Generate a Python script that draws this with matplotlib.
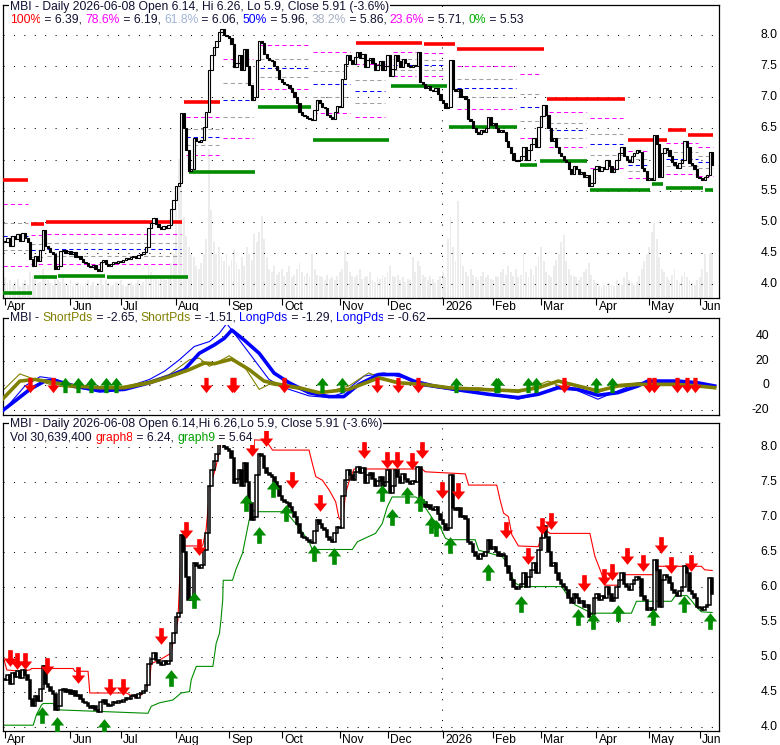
import numpy as np
import pandas as pd
import matplotlib
matplotlib.use("Agg")
import matplotlib.pyplot as plt
from matplotlib.path import Path

plt.rcParams['font.family'] = ['Liberation Sans', 'DejaVu Sans']

W, H = 780, 745

# ---------------- data -----------------
holidays = ['2025-05-26', '2025-06-19', '2025-07-04', '2025-09-01', '2025-11-27',
            '2025-12-25', '2026-01-01', '2026-01-19', '2026-02-16', '2026-04-03',
            '2026-05-25']
dates = pd.bdate_range('2025-04-24', '2026-06-08', freq='C', holidays=holidays)

close = [4.68, 4.75, 4.62, 4.78, 4.72, 4.80, 4.70, 4.82, 4.75, 4.68,
         4.40, 4.30, 4.45, 4.38, 4.55, 4.87, 4.62, 4.58, 4.52, 4.48,
         4.25, 4.30, 4.53, 4.55, 4.50, 4.53, 4.48, 4.52, 4.44, 4.46,
         4.40, 4.36, 4.34, 4.30, 4.28, 4.31, 4.25, 4.22, 4.36, 4.39,
         4.33, 4.30, 4.32, 4.36, 4.34, 4.38, 4.36, 4.39, 4.42, 4.40,
         4.44, 4.46, 4.42, 4.47, 4.49, 4.52, 4.60, 4.91, 4.98, 5.06,
         4.96, 4.92, 4.89, 4.94, 4.90, 4.95, 5.20, 5.35, 5.58, 5.63,
         6.75, 6.50, 6.15, 5.82, 5.85, 6.34, 6.30, 6.28, 6.32, 6.53,
         6.77, 7.44, 7.68, 7.80, 7.91, 8.05, 8.10, 8.00, 7.98, 7.95,
         7.85, 7.49, 7.55, 7.68, 7.44, 7.77, 7.50, 7.20, 6.96, 7.00,
         7.60, 7.91, 7.87, 7.70, 7.63, 7.60, 7.58, 7.50, 7.44, 7.30,
         7.25, 7.22, 7.20, 7.15, 7.08, 7.00, 6.90, 6.77, 6.72, 6.70,
         6.67, 6.65, 6.63, 6.80, 6.96, 6.91, 6.85, 6.82, 6.72, 6.68,
         6.65, 6.77, 6.86, 6.84, 7.30, 7.53, 7.68, 7.60, 7.53, 7.65,
         7.72, 7.63, 7.70, 7.49, 7.60, 7.63, 7.55, 7.44, 7.52, 7.58,
         7.44, 7.50, 7.68, 7.34, 7.45, 7.68, 7.58, 7.49, 7.62, 7.55,
         7.50, 7.48, 7.52, 7.50, 7.72, 7.25, 7.22, 7.15, 7.18, 7.12,
         7.10, 7.15, 7.05, 6.96, 6.90, 6.82, 6.85, 7.60, 7.13, 7.10,
         7.13, 7.00, 7.02, 6.98, 6.65, 6.62, 6.50, 6.45, 6.41, 6.48,
         6.45, 6.50, 6.68, 6.55, 6.58, 6.50, 6.44, 6.48, 6.44, 6.30,
         6.20, 6.10, 6.00, 5.98, 6.00, 6.05, 6.20, 6.00, 6.15, 6.25,
         6.34, 6.20, 6.53, 6.70, 6.87, 6.72, 6.50, 6.30, 6.35, 6.20,
         6.10, 6.05, 6.00, 5.96, 5.85, 5.77, 5.90, 5.85, 5.77, 5.80,
         5.72, 5.75, 5.58, 5.62, 5.85, 5.90, 5.82, 5.88, 5.85, 6.00,
         5.90, 5.80, 5.85, 6.00, 6.10, 6.20, 6.05, 6.00, 5.96, 6.05,
         6.10, 6.15, 6.12, 5.87, 5.82, 5.68, 5.70, 5.68, 6.39, 6.25,
         5.72, 6.10, 6.18, 6.15, 6.06, 5.96, 5.92, 5.87, 5.95, 6.00,
         6.30, 6.20, 5.95, 5.91, 5.85, 5.72, 5.70, 5.68, 5.72, 5.75,
         6.13, 5.91]

# volume in millions
volume = [14, 10, 12, 9, 11, 13, 8, 10, 12, 9,
          18, 15, 12, 10, 11, 20, 16, 12, 10, 9,
          14, 12, 11, 15, 10, 9, 12, 8, 10, 11,
          9, 8, 10, 12, 9, 11, 8, 10, 13, 9,
          12, 10, 8, 9, 11, 10, 12, 9, 8, 10,
          11, 9, 10, 12, 9, 11, 14, 22, 18, 16,
          14, 12, 15, 13, 12, 16, 24, 30, 60, 95,
          100, 55, 42, 35, 30, 28, 22, 20, 24, 30,
          40, 102, 60, 38, 30, 35, 28, 25, 30, 22,
          26, 33, 24, 20, 28, 22, 35, 30, 26, 44,
          38, 45, 56, 40, 28, 20, 18, 22, 16, 18,
          20, 15, 18, 22, 14, 16, 20, 24, 18, 15,
          17, 14, 30, 20, 16, 15, 14, 12, 16, 13,
          14, 12, 15, 18, 20, 32, 25, 18, 15, 14,
          16, 20, 13, 14, 15, 18, 12, 11, 14, 13,
          16, 14, 18, 22, 15, 14, 16, 12, 14, 11,
          13, 12, 28, 18, 25, 22, 16, 14, 12, 15,
          13, 10, 12, 15, 18, 14, 40, 55, 35, 25,
          66, 30, 22, 18, 15, 20, 16, 14, 12, 15,
          18, 14, 16, 13, 12, 15, 14, 18, 20, 16,
          22, 18, 15, 20, 14, 16, 30, 18, 14, 20,
          16, 22, 28, 35, 25, 18, 16, 14, 22, 26,
          30, 38, 43, 25, 20, 16, 15, 14, 12, 14,
          18, 20, 24, 16, 12, 10, 8, 7, 9, 8,
          10, 9, 8, 12, 10, 9, 14, 18, 12, 10,
          9, 11, 15, 20, 25, 30, 35, 45, 51, 40,
          28, 20, 18, 14, 12, 16, 20, 12, 10, 15,
          18, 14, 12, 10, 9, 12, 14, 20, 30, 18,
          31, 31]

# retracement groups: start bar, end bar, high, low
fib_groups = [(-0.7, 9.2, 5.68, 3.86), (10.5, 16, 4.97, 4.12), (16.5, 39, 5.0, 4.12),
              (40.5, 70, 5.0, 4.12), (72, 85, 6.93, 5.80), (86.5, 98.5, 8.1, 5.80),
              (101.5, 120.5, 8.1, 6.84), (122.5, 137, 8.1, 6.32), (139, 151, 7.87, 6.32),
              (154, 163.5, 7.87, 7.18), (166.5, 175, 7.85, 7.18), (179.5, 203, 7.77, 6.52),
              (204.7, 213.3, 7.77, 5.91), (216, 231, 6.97, 5.97), (232.5, 245.5, 6.97, 5.52),
              (247.5, 256, 6.31, 5.52), (262.5, 275.5, 6.47, 5.55), (275.5, 281.4, 6.39, 5.53)]
fib_ratios = [0.786, 0.618, 0.5, 0.382, 0.236]
fib_colors = ['#ff00ff', '#a0a0a0', '#0000ff', '#a0a0a0', '#ff00ff']

red_segs = [(-0.7, 9.2, 5.68), (10.2, 15.5, 4.97), (16.2, 70.4, 5.0), (71.3, 85.5, 6.93),
            (139.4, 165.8, 7.87), (166.5, 178.7, 7.85), (179.5, 214.2, 7.77),
            (215.3, 246.4, 6.97), (247.4, 262.9, 6.31), (263.5, 270.4, 6.47),
            (271.5, 281.4, 6.39)]
green_segs = [(-0.7, 10.6, 3.86), (11.5, 20.5, 4.12), (21.1, 39.6, 4.13), (40.6, 72.6, 4.12),
              (73.3, 99.5, 5.80), (100.4, 121.5, 6.84), (122.2, 152.6, 6.32),
              (153.2, 175.7, 7.18), (176.3, 203.4, 6.52), (204.7, 211.4, 5.91),
              (212.7, 231.2, 5.98), (232.5, 256.3, 5.52), (256.9, 261.5, 5.61),
              (262.5, 277.4, 5.55), (278, 281.4, 5.52)]

# oscillator panel (bar, value)
long_thick_x = [-1, 9.9, 15.8, 19.8, 27.7, 37.6, 47.5, 57.4, 65.3, 71.3, 77.2, 83.2, 87.1, 90.1,
                95, 101, 106.9, 112.9, 120.8, 128.7, 134.6, 140.6, 148.5, 156.4, 162.4, 170.3,
                180.2, 192, 203.9, 211.9, 219.8, 227.7, 235.6, 243.5, 251.5, 255.4, 267.3,
                275.2, 282]
long_thick_y = [-20.5, -3.2, 3.5, 4.0, -0.5, -4.5, -3.2, 2.1, 7.5, 12.8, 26, 32.8, 38.1, 44.8,
                36.8, 26, 10, 2.1, -5.9, -9.1, -9.1, 0.8, 8.8, 8.8, 3.5, -0.5,
                -3.7, -7.2, -9.9, -7.2, -1.9, -3.2, -8, -5.9, -0.5, 3.5, 3.5,
                2.1, -0.5]
long_thin_x = [0, 7.9, 13.9, 19.8, 27.7, 37.6, 47.5, 57.4, 63.4, 69.3, 75.2, 81.2, 85.1, 88.1,
               93.1, 99, 104.9, 110.9, 120.8, 128.7, 134.6, 142.6, 150.5, 158.4, 166.3, 176.2,
               192, 203.9, 211.9, 219.8, 227.7, 235.6, 243.5, 251.5, 259.4, 267.3, 275.2, 282]
long_thin_y = [-19.2, -0.5, 7, 5.3, -1.9, -4.5, -1.9, 4.8, 11.5, 20.8, 31.5, 35.5, 42.1, 50.1,
               36.8, 20.8, 4.8, -1.9, -8.5, -9.9, -5.9, 7.5, 10.1, 6.1, -0.5, -3.2,
               -7.2, -11.2, -7.2, -0.5, -4.5, -11.2, -4.5, 2.1, 3.5, 2.1, 0.8, -1.9]
short_thick_x = [-1, 5.9, 11.9, 19.8, 27.7, 37.6, 47.5, 57.4, 65.3, 73.3, 79.2, 83.2, 90.1, 97,
                 102.9, 108.9, 116.8, 124.7, 136.6, 148.5, 156.4, 166.3, 176.2, 188.1, 203.9,
                 211.9, 219.8, 227.7, 235.6, 243.5, 251.5, 267.3, 275.2, 282]
short_thick_y = [-11.2, 3.5, 4.8, 2.1, -0.5, -1.9, -1.9, 2.1, 7, 12.8, 18.1, 17.6, 21.3, 12.8,
                 3.5, 0.8, -1.9, -5.9, -3.2, 6.1, 2.1, 0.8, -1.9, -3.2, -4.5,
                 -1.9, 3.5, -0.5, -4.5, -0.5, 0.8, 0.8, -0.5, -1.9]
short_thin_x = [-1, 5.9, 11.9, 19.8, 27.7, 37.6, 47.5, 57.4, 65.3, 73.3, 77.2, 81.2, 85.1, 89.1,
                95, 101, 104.9, 116.8, 124.7, 136.6, 144.5, 154.4, 166.3, 176.2, 188.1, 203.9,
                215.8, 223.7, 235.6, 243.5, 251.5, 267.3, 275.2, 282]
short_thin_y = [-4.5, 9.3, 4.8, -0.5, -1.9, -3.2, -0.5, 3.5, 8.8, 20.8, 22.1, 15.5, 19.5, 24,
                15.5, -3.2, 0.8, -3.2, -7.2, -0.5, 10.1, 2.1, 2.1, -3.2, -1.9, -5.9,
                3.5, -3.2, -5.9, 0.8, 2.1, 2.1, -0.5, -1.9]
osc_sell = [10, 19, 80, 90, 91, 111, 148, 156, 164, 222, 256, 258, 267, 271, 274]
osc_buy = [24, 29, 34, 40, 44, 126, 134, 179, 195, 196, 208, 211, 235, 241]

# lower panel: trailing lines and signals
graph8_x = [-0.7, 0.7, 5.9, 9.9, 10.6, 27.1, 27.7, 33, 33.7, 48.2, 50.9, 53.5, 56.1, 57.5, 58.1,
            61.4, 66, 66.7, 68.7, 70, 78.5, 79.9, 80.5, 81.5, 83.8, 85.8, 86.5, 103.6, 106.3,
            120.8, 122.1, 123.5, 126.1, 128.8, 131.4, 132.7, 134, 134.7, 135.3, 136.7, 138,
            138.7, 165.7, 167, 182.9, 184.2, 195.4, 196.7, 198.1, 200, 201.4, 204, 211.9,
            213.3, 214.6, 216.6, 232.4, 234.4, 237, 238.4, 243.6, 245.6, 258.2, 259.5, 276.7,
            278, 281]
graph8_y = [5.01, 4.82, 4.80, 4.82, 4.84, 4.84, 4.80, 4.80, 4.49, 4.49, 4.44, 4.44, 4.54, 4.68, 4.91,
            4.96, 5.06, 5.20, 5.53, 6.59, 6.59, 6.82, 7.06, 7.44, 7.72, 8.05, 8.12, 8.10, 7.96,
            7.96, 7.77, 7.58, 7.53, 7.39, 7.22, 6.99, 6.94, 7.13, 7.34, 7.51, 7.63,
            7.69, 7.69, 7.65, 7.62, 7.46, 7.46, 7.25, 7.06, 7.01, 6.75, 6.59, 6.58,
            6.75, 6.82, 6.77, 6.77, 6.44, 6.20, 6.03, 6.03, 6.18, 6.18, 6.30, 6.30,
            6.25, 6.24]
graph9_x = [-0.7, 11.2, 12.5, 14.5, 15.2, 19.2, 20.5, 56.8, 58.1, 61.4, 66.7, 70, 73.3, 74, 76,
            82.6, 83.9, 85.2, 85.8, 86.5, 86.7, 90.4, 91.7, 94.4, 97, 98.4, 99.7, 111.6, 115.5,
            117.5, 120.8, 122.1, 138, 140, 147.2, 149.9, 151.9, 153.8, 163.1, 165.1, 167.7,
            170.3, 172.3, 175, 176.3, 186.8, 188.2, 197.4, 198.7, 200.7, 202.7, 205.3, 221.2,
            223.8, 226.5, 233.1, 248.9, 250.9, 264.8, 266.4, 271, 273, 274.7, 276.7, 281]
graph9_y = [4.03, 4.03, 4.18, 4.32, 4.34, 4.34, 4.25, 4.20, 4.30, 4.35, 4.39, 4.49, 4.51, 4.68, 4.87,
            4.87, 5.20, 5.34, 5.53, 5.82, 6.10, 6.10, 6.25, 6.49, 6.96, 7.10, 7.08, 7.08, 6.91,
            6.82, 6.65, 6.54, 6.54, 6.65, 6.77, 6.91, 7.15, 7.29, 7.29, 7.25, 7.10,
            6.96, 6.91, 6.70, 6.68, 6.68, 6.53, 6.44, 6.39, 6.20, 6.06, 6.01, 6.01,
            5.87, 5.75, 5.63, 5.63, 5.80, 5.80, 5.88, 5.88, 5.80, 5.72, 5.65, 5.64]
sell_x = [2, 4.9, 7.9, 16.8, 29.1, 41.6, 46.9, 62.1, 71.8, 77.1, 98.1, 103.8, 114, 125, 142.8,
          151.8, 155.9, 161.8, 165.7, 173.7, 180, 199, 207.7, 213.5, 217, 229.9, 237.9, 241,
          247.1, 253.7, 260.8, 264.8, 272.7]
sell_y = [4.99, 4.94, 4.94, 4.87, 4.75, 4.58, 4.58, 5.30, 6.82, 6.57, 7.99, 8.13, 7.53, 7.20, 7.96,
          7.82, 7.82, 7.80, 7.96, 7.39, 7.37, 6.82, 6.44, 6.87, 6.94, 6.06, 6.15, 6.22,
          6.44, 6.34, 6.60, 6.32, 6.34]
buy_x = [14.8, 20.7, 39.2, 66, 74.9, 95.7, 100.8, 106.5, 111.6, 122.8, 130.7, 149.9, 153.8, 159.8,
         164.7, 169.4, 171.3, 176.9, 191.9, 205, 227.8, 233.7, 243.6, 257.5, 269.8, 280]
buy_y = [4.18, 4.03, 4.00, 4.70, 5.82, 7.20, 6.75, 7.40, 7.06, 6.49, 6.44, 7.35, 7.00, 7.32,
         7.20, 6.89, 6.84, 6.60, 6.22, 5.76, 5.58, 5.52, 5.63, 5.57, 5.76, 5.52]

n = min(len(dates), len(close), len(volume))
x = np.arange(n)
c = np.array(close[:n])
o = np.concatenate([[c[0]], c[:-1]])
v = np.array(volume[:n])

# month labels
firsts = [0] + [i for i in range(1, n) if dates[i].month != dates[i - 1].month]
firsts = [f for f in firsts if not (dates[f].year == 2025 and dates[f].month == 5)]
mlabels = []
for f in firsts:
    d = dates[f]
    mlabels.append('2026' if (d.month == 1) else d.strftime('%b'))

# arrow markers
av = [(-0.14, 0.5), (0.14, 0.5), (0.14, 0.0), (0.4, 0.0), (0.0, -0.5), (-0.4, 0.0),
      (-0.14, 0.0), (-0.14, 0.5)]
ac = [Path.MOVETO] + [Path.LINETO] * 6 + [Path.CLOSEPOLY]
down_arrow = Path(av, ac)
up_arrow = Path([(a, -b) for a, b in av], ac)

RED = '#ff0000'
GRN = '#008c00'
FS = 8.7
XL = (-0.8, 283.7)
dots = (0, (1, 9))

fig = plt.figure(figsize=(W / 100, H / 100), dpi=100)
ax1 = fig.add_axes([3 / W, 1 - 298 / H, 716 / W, 293 / H])
ax2 = fig.add_axes([3 / W, 1 - 415 / H, 716 / W, 97 / H])
ax3 = fig.add_axes([3 / W, 1 - 731 / H, 716 / W, 308 / H])


def setup(ax, ylim, ticks, labels, pad):
    ax.set_xlim(*XL)
    ax.set_ylim(*ylim)
    for s in ax.spines.values():
        s.set_linewidth(0.9)
    ax.set_yticks([])
    for t, lab in zip(ticks, labels):
        ax.axhline(t, color='black', lw=0.75, ls=dots, zorder=1)
        ax.annotate(lab, xy=(1, t), xycoords=('axes fraction', 'data'), xytext=(pad, 0),
                    textcoords='offset points', ha='right', va='center', fontsize=FS,
                    annotation_clip=False)


def months(ax):
    ax.set_xticks(firsts)
    ax.tick_params(axis='x', length=5, width=0.8, direction='out', labelbottom=False)
    for f, lab in zip(firsts, mlabels):
        ax.annotate(lab, xy=(f, 0), xycoords=('data', 'axes fraction'), xytext=(1.5, -2.5),
                    textcoords='offset points', ha='left', va='top', fontsize=FS,
                    annotation_clip=False)


pticks = [4.0, 4.5, 5.0, 5.5, 6.0, 6.5, 7.0, 7.5, 8.0]
plabels = ['%.1f' % t for t in pticks]

# ---------------- top panel -----------------
y1 = (3.78, 8.48)
setup(ax1, y1, pticks, plabels, 42)
months(ax1)
vscale = (y1[1] - y1[0]) / 200.0
ax1.bar(x, v * vscale, bottom=y1[0], width=0.75, color='#ececec', zorder=0)
ax1.axvline(173.5, color='black', lw=0.75, ls=dots, zorder=1)
for s, e, hi, lo in fib_groups:
    for r, col in zip(fib_ratios, fib_colors):
        lv = lo + r * (hi - lo)
        ax1.plot([s, e], [lv, lv], color=col, lw=0.75, ls=(0, (4, 3)), zorder=2)
for s, e, lv in red_segs:
    ax1.plot([s, e], [lv, lv], color=RED, lw=2.6, solid_capstyle='butt', zorder=3)
for s, e, lv in green_segs:
    ax1.plot([s, e], [lv, lv], color=GRN, lw=2.6, solid_capstyle='butt', zorder=3)
up = c >= o
body = np.maximum(np.abs(c - o), 0.01)
ax1.bar(x[up], body[up], bottom=np.minimum(o, c)[up], width=0.9, color='white',
        edgecolor='black', lw=0.8, zorder=4)
ax1.bar(x[~up], body[~up], bottom=np.minimum(o, c)[~up], width=0.9, color='black',
        edgecolor='black', lw=0.8, zorder=4)

# ---------------- oscillator panel -----------------
setup(ax2, (-24, 54.6), [-20, 0, 20, 40], ['-20', '0', '20', '40'], 36)
ax2.set_xticks([])
ax2.plot(long_thin_x, long_thin_y, color='#0000ff', lw=0.8, zorder=2)
ax2.plot(short_thin_x, short_thin_y, color='#808000', lw=0.8, zorder=2)
ax2.plot(long_thick_x, long_thick_y, color='#0000ff', lw=2.6, zorder=3)
ax2.plot(short_thick_x, short_thick_y, color='#808000', lw=2.6, zorder=3)
ax2.plot(osc_sell, [0] * len(osc_sell), ls='none', marker=down_arrow, ms=11,
         color=RED, mew=0, zorder=4)
ax2.plot(osc_buy, [0] * len(osc_buy), ls='none', marker=up_arrow, ms=11,
         color=GRN, mew=0, zorder=4)

# ---------------- lower panel -----------------
setup(ax3, (3.947, 8.347), pticks, plabels, 42)
months(ax3)
ax3.axvline(173.5, color='black', lw=0.75, ls=dots, zorder=1)
ax3.plot(graph8_x, graph8_y, color=RED, lw=0.8, zorder=2)
ax3.plot(graph9_x, graph9_y, color=GRN, lw=0.8, zorder=2)
ax3.bar(x[up], body[up], bottom=np.minimum(o, c)[up], width=1.0, color='white',
        edgecolor='black', lw=1.1, zorder=3)
ax3.bar(x[~up], body[~up], bottom=np.minimum(o, c)[~up], width=1.0, color='black',
        edgecolor='black', lw=1.1, zorder=3)
ax3.plot(sell_x, sell_y, ls='none', marker=down_arrow, ms=12, color=RED, mew=0, zorder=4)
ax3.plot(buy_x, buy_y, ls='none', marker=up_arrow, ms=12, color=GRN, mew=0, zorder=4)

# ---------------- header texts -----------------
renderer = fig.canvas.get_renderer()
TXT = '#101030'


def text_run(px, py, pieces):
    for s, col in pieces:
        t = fig.text(px / W, 1 - py / H, s, color=col, fontsize=FS, ha='left', va='center',
                     bbox=dict(facecolor='white', edgecolor='none', pad=0.6))
        px += t.get_window_extent(renderer=renderer).width


text_run(10, 7, [('MBI - Daily 2026-06-08 Open 6.14, Hi 6.26, Lo 5.9, Close 5.91 (-3.6%)', TXT)])
text_run(10, 20, [('100%', RED), (' = 6.39, ', TXT), ('78.6%', '#ff00ff'), (' = 6.19, ', TXT),
                  ('61.8%', '#a0b4d8'), (' = 6.06, ', TXT), ('50%', '#0000ff'), (' = 5.96, ', TXT),
                  ('38.2%', '#a8b0c4'), (' = 5.86, ', TXT), ('23.6%', '#ff00ff'),
                  (' = 5.71, ', TXT), ('0%', '#00b000'), (' = 5.53', TXT)])
text_run(10, 318, [('MBI - ', TXT), ('ShortPds', '#808000'), (' = -2.65, ', TXT),
                   ('ShortPds', '#808000'), (' = -1.51, ', TXT), ('LongPds', '#0000ff'),
                   (' = -1.29, ', TXT), ('LongPds', '#0000ff'), (' = -0.62', TXT)])
text_run(10, 424, [('MBI - Daily 2026-06-08 Open 6.14,Hi 6.26,Lo 5.9, Close 5.91 (-3.6%)', TXT)])
text_run(10, 438, [('Vol 30,639,400 ', TXT), ('graph8', RED), (' = 6.24, ', TXT),
                   ('graph9', '#00a000'), (' = 5.64', TXT)])

fig.savefig('out.png', dpi=100)
